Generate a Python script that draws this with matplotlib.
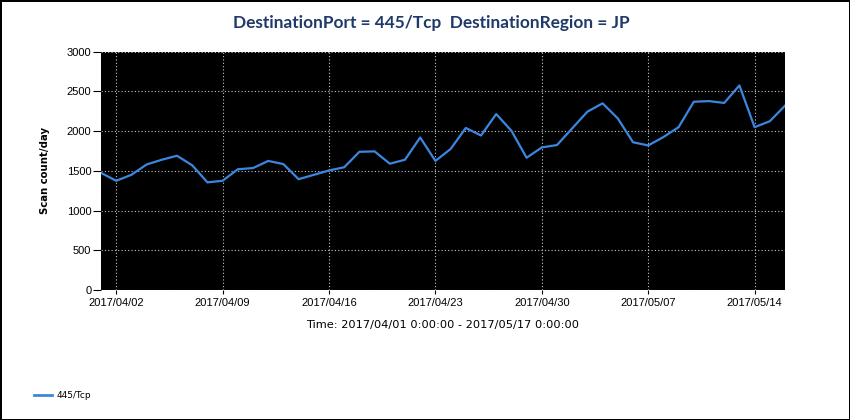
import numpy as np
import pandas as pd
import matplotlib
matplotlib.use("Agg")
import matplotlib.pyplot as plt
import matplotlib.dates as mdates
from matplotlib.lines import Line2D

# daily scan counts, 2017/04/01 .. 2017/05/16
days = pd.date_range("2017-04-01", "2017-05-16", freq="D")
counts = [1475, 1375, 1450, 1580, 1640, 1690, 1570, 1355, 1375, 1520,
          1535, 1625, 1585, 1395, 1450, 1505, 1545, 1740, 1745, 1590,
          1640, 1920, 1625, 1775, 2040, 1945, 2215, 2005, 1665, 1795,
          1825, 2035, 2245, 2350, 2160, 1860, 1820, 1925, 2050, 2370,
          2378, 2355, 2575, 2050, 2125, 2320]
series_name = "445/Tcp"
title = "DestinationPort = 445/Tcp  DestinationRegion = JP"
x_label = "Time: 2017/04/01 0:00:00 - 2017/05/17 0:00:00"
y_label = "Scan count/day"
y_ticks = [0, 500, 1000, 1500, 2000, 2500, 3000]
x_ticks = pd.date_range("2017-04-02", "2017-05-14", freq="7D")

line_color = "#3b87e0"

fig = plt.figure(figsize=(8.5, 4.2), dpi=100)
fig.patch.set_edgecolor("black")
fig.patch.set_linewidth(2)

ax = fig.add_axes([101 / 850, 130 / 420, 684 / 850, 238.3 / 420])
ax.set_facecolor("black")
ax.plot(days, counts, color=line_color, linewidth=1.6)

ax.set_xlim(days[0], days[-1])
ax.set_ylim(0, 3000)
ax.set_yticks(y_ticks)
ax.set_xticks(x_ticks)
ax.xaxis.set_major_formatter(mdates.DateFormatter("%Y/%m/%d"))
ax.tick_params(axis="y", length=5.5, width=0.8, pad=1.5, labelsize=8)
ax.tick_params(axis="x", length=3, width=0.8, pad=2.5, labelsize=8)
for lab in ax.get_xticklabels() + ax.get_yticklabels():
    lab.set_family("Liberation Sans")
ax.grid(True, color="#c8c8c8", linestyle=(0, (1, 2)), linewidth=0.8)
for s in ax.spines.values():
    s.set_visible(False)

fig.text(431 / 850, 1 - 23 / 420, title, ha="center", va="center",
         fontsize=12.4, fontweight="bold", color="#1f3a68", family="Lato")
fig.text(45 / 850, 1 - 170 / 420, y_label, ha="center", va="center",
         rotation=90, fontsize=7.3, fontweight="bold")
fig.text(443 / 850, 1 - 325 / 420, x_label, ha="center", va="center",
         fontsize=8.2)

handle = Line2D([], [], color=line_color, linewidth=2)
fig.legend([handle], [series_name], loc="center left",
           bbox_to_anchor=(26 / 850, 1 - 396 / 420), frameon=False,
           fontsize=6.5, handlelength=2.0, handletextpad=0.5)

fig.savefig("out.png", dpi=100)
